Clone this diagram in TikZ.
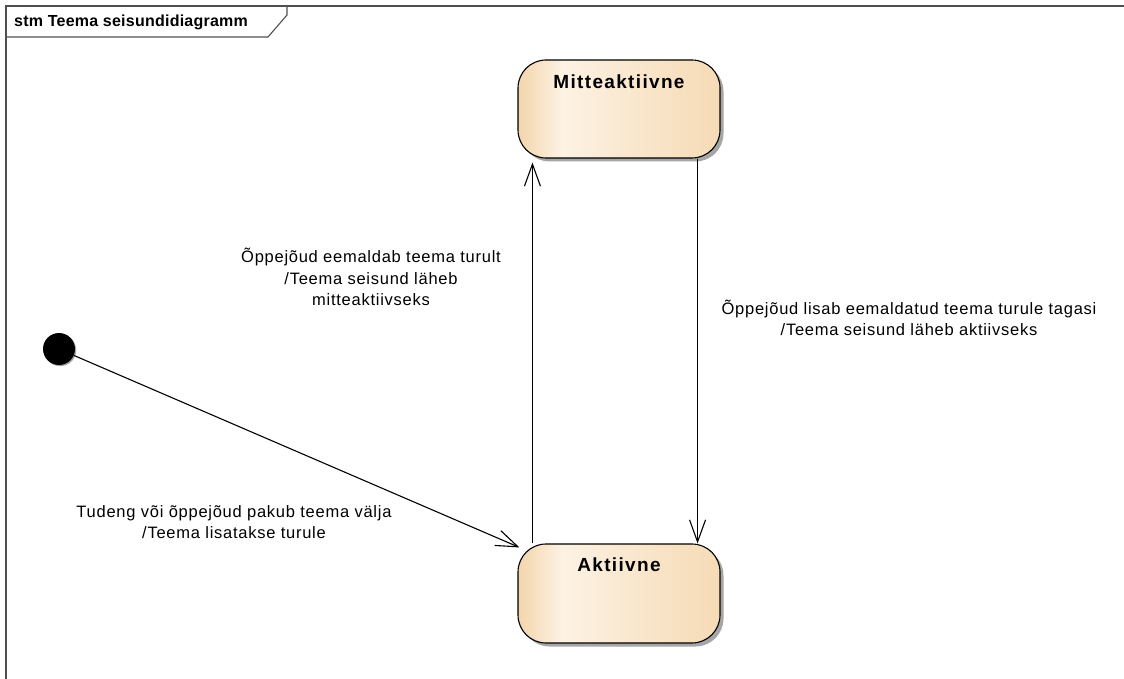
\documentclass[tikz,border=0pt]{standalone}
\usepackage{fontspec}
\setmainfont{Liberation Sans}
\newfontfamily\labelfont{Liberation Sans}[LetterSpace=4.5]
\newfontfamily\statefont{Liberation Sans}[LetterSpace=7]
\newfontfamily\titlefont{Liberation Sans}[LetterSpace=1.5]
\usetikzlibrary{arrows.meta,shadows}

\definecolor{stA}{HTML}{F3D5AC}
\definecolor{stB}{HTML}{FDF2E4}
\definecolor{stC}{HTML}{F9E6CC}
\definecolor{stD}{HTML}{F6DBB5}
\definecolor{framecol}{HTML}{505050}
\definecolor{shadowcol}{HTML}{A6A6A6}

% state fill: peach at the edges, light band left of centre
\pgfdeclarehorizontalshading{statefill}{100bp}{%
  color(0bp)=(stA); color(25bp)=(stA); color(36bp)=(stB);
  color(55bp)=(stC); color(75bp)=(stD); color(100bp)=(stD)}

\tikzset{
  statebox/.style={draw=black, line width=1.1pt, rounded corners=28pt,
    shading=statefill, minimum width=202pt, inner sep=0pt,
    general shadow={fill=shadowcol, shadow xshift=3.5pt, shadow yshift=-3.5pt}},
  statename/.style={font=\statefont\bfseries\fontsize{19pt}{22pt}\selectfont, inner sep=0pt},
  translabel/.style={font=\labelfont\fontsize{16.5pt}{21.5pt}\selectfont, align=center, inner sep=0pt},
  transition/.style={draw=black, line width=1.1pt,
    -{Straight Barb[length=22pt,width=16pt,line width=1.1pt]}},
}

\begin{document}
\begin{tikzpicture}[x=1pt, y=-1pt]
  \useasboundingbox (0,0) rectangle (1124,679);

  % diagram frame and its name tab
  \draw[framecol, line width=1.3pt] (6,679) -- (6,6) -- (1124,6);
  \draw[framecol, line width=1.1pt] (6,37) -- (268,37) -- (287,15) -- (287,6);
  \node[anchor=west, inner sep=0pt, font=\titlefont\bfseries\fontsize{16pt}{18pt}\selectfont]
    (title) at (14,22) {stm Teema seisundidiagramm};

  % states
  \node[statebox, minimum height=98pt] (M) at (619,109) {};
  \node[statename] (Mname) at ([yshift=-22pt]M.north) {Mitteaktiivne};
  \node[statebox, minimum height=99pt] (A) at (619,593.5) {};
  \node[statename] (Aname) at ([yshift=-21pt]A.north) {Aktiivne};

  % initial pseudostate
  \node[circle, fill=black, minimum size=32pt, inner sep=0pt,
    general shadow={fill=shadowcol, shadow xshift=1.2pt, shadow yshift=-1.2pt}]
    (init) at (59,349) {};

  % transitions
  \draw[transition] (init) -- ([xshift=2pt,yshift=-4pt]A.north west);
  \draw[transition] ([xshift=15pt]A.north west) -- ([xshift=15pt,yshift=-4pt]M.south west);
  \draw[transition] ([xshift=-23pt]M.south east) -- ([xshift=-23pt]A.north east);

  % transition labels
  \node[translabel] (l1) at (371,277)
    {Õppejõud eemaldab teema turult\\/Teema seisund läheb\\mitteaktiivseks};
  \node[translabel] (l2) at (909,318)
    {Õppejõud lisab eemaldatud teema turule tagasi\\/Teema seisund läheb aktiivseks};
  \node[translabel] (l3) at (234,522)
    {Tudeng või õppejõud pakub teema välja\\/Teema lisatakse turule};
\end{tikzpicture}
\end{document}
